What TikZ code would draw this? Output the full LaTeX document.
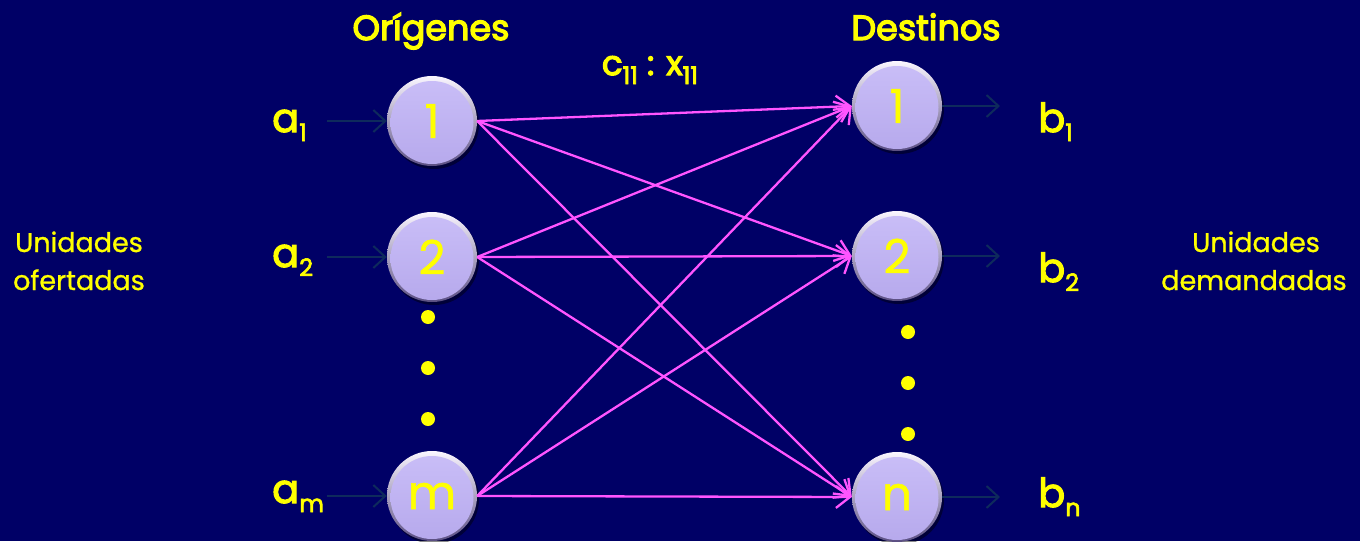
\documentclass[tikz,border=0pt]{standalone}
\usepackage{fontspec}
\setmainfont{Poppins}
\newfontfamily\medfont{Poppins}[FakeBold=2.6]
\newfontfamily\semifont{Poppins}[FakeBold=3.6]
\newfontfamily\lightbold{Poppins}[FakeBold=1.0]
\usetikzlibrary{arrows.meta}
\definecolor{bg}{RGB}{0,0,102}
\definecolor{ylw}{RGB}{255,255,0}
\definecolor{mag}{RGB}{255,85,255}
\definecolor{darkarr}{RGB}{14,42,92}
\definecolor{lav}{RGB}{190,176,246}
\definecolor{lavtop}{RGB}{250,246,255}
\definecolor{lavbot}{RGB}{90,78,130}
\newcommand\subs[1]{\raisebox{-9pt}{\fontsize{24}{24}\selectfont #1}}
\tikzset{
  ball/.style={circle, minimum size=90pt, inner sep=0pt, text=ylw,
    font=\fontsize{47}{47}\selectfont\lightbold,
    preaction={fill=black, fill opacity=0.45, transform canvas={xshift=2pt,yshift=-3pt}},
    top color=lavtop, bottom color=lavbot,
    path picture={
      \shade[top color=lav!82!white, bottom color=lav!96!black]
        ([yshift=-1.5pt]path picture bounding box.center) circle (41.5pt);
    }},
  lbl/.style={text=ylw, inner sep=0pt, font=\fontsize{40}{40}\selectfont\medfont},
  side/.style={text=ylw, inner sep=0pt, font=\fontsize{27}{27}\selectfont\lightbold},
  ttl/.style={text=ylw, inner sep=0pt, font=\fontsize{35}{35}\selectfont\semifont},
  flow/.style={mag, line width=2.3pt, -{Straight Barb[length=14pt,width=22pt,line width=2.3pt]}},
  feed/.style={darkarr, line width=2pt, -{Straight Barb[length=12pt,width=22pt,line width=2pt]}},
  dotn/.style={circle, fill=ylw, minimum size=14pt, inner sep=0pt}
}
\begin{document}
\begin{tikzpicture}[x=1pt,y=-1pt]
\fill[bg] (0,0) rectangle (1360,541);
\useasboundingbox (0,0) rectangle (1360,541);

% titles
\node[ttl, anchor=base] (tO) at (431,40) {Orígenes};
\node[ttl, anchor=base] (tD) at (926,40) {Destinos};
\node[ttl, anchor=base, font=\fontsize{34}{34}\selectfont\semifont] (cx) at (650,75) {c\subs{11} : x\subs{11}};

% nodes
\node[ball] (o1) at (432,121) {1};
\node[ball] (o2) at (432,257) {2};
\node[ball] (om) at (432,496) {m};
\node[ball] (d1) at (897,106) {1};
\node[ball] (d2) at (897,256) {2};
\node[ball] (dn) at (897,497) {n};

% dots
\node[dotn] (od1) at (428,317) {};
\node[dotn] (od2) at (428,368) {};
\node[dotn] (od3) at (428,419) {};
\node[dotn] (dd1) at (908,332) {};
\node[dotn] (dd2) at (908,383) {};
\node[dotn] (dd3) at (908,434) {};

% supply/demand labels
\node[lbl, anchor=base west] (a1) at (272,132) {a\subs{1}};
\node[lbl, anchor=base west] (a2) at (272,267) {a\subs{2}};
\node[lbl, anchor=base west] (am) at (272,503) {a\subs{m}};
\node[lbl, anchor=base west] (b1) at (1038,132) {b\subs{1}};
\node[lbl, anchor=base west] (b2) at (1038,282) {b\subs{2}};
\node[lbl, anchor=base west] (bn) at (1038,507) {b\subs{n}};

\node[side, anchor=base] (u1) at (79,252) {Unidades};
\node[side, anchor=base] (of) at (79,290) {ofertadas};
\node[side, anchor=base] (u2) at (1256,252) {Unidades};
\node[side, anchor=base] (de) at (1254,290) {demandadas};

% feed arrows
\coordinate (s1) at (327,121);
\coordinate (s2) at (327,257);
\coordinate (sm) at (327,496);
\coordinate (e1) at (1000,106);
\coordinate (e2) at (1000,256);
\coordinate (en) at (1000,497);
\draw[feed] (s1) -- (o1.west);
\draw[feed] (s2) -- (o2.west);
\draw[feed] (sm) -- (om.west);
\draw[feed] (d1.east) -- (e1);
\draw[feed] (d2.east) -- (e2);
\draw[feed] (dn.east) -- (en);

% flows
\foreach \o in {o1,o2,om}{
  \foreach \d in {d1,d2,dn}{
    \draw[flow] (\o.east) -- (\d.west);
  }
}
\end{tikzpicture}
\end{document}
